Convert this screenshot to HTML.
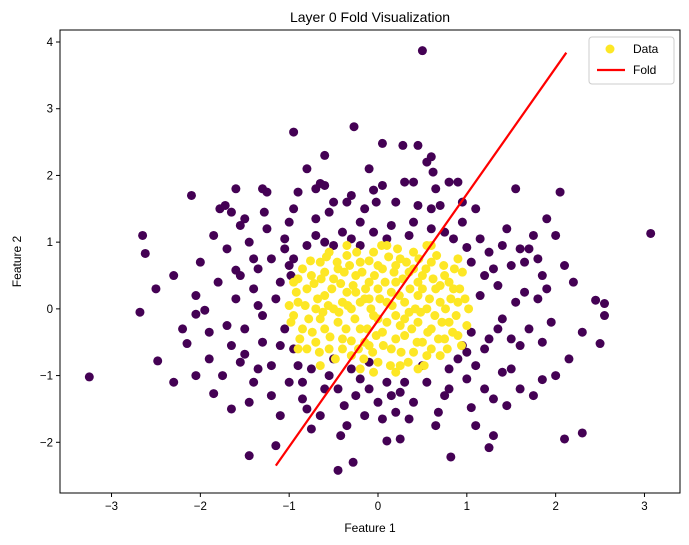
<!DOCTYPE html>
<html><head><meta charset="utf-8"><style>
html,body{margin:0;padding:0;background:#fff;}
svg{display:block;font-family:"Liberation Sans","DejaVu Sans",sans-serif;}
</style></head><body>
<svg id="chart" width="689" height="545" viewBox="0 0 689 545" xmlns="http://www.w3.org/2000/svg"></svg>
<script>
const purplePts = [[-3.25,-1.02],[-2.68,-0.05],[-2.65,1.1],[-2.62,0.83],[-2.48,-0.78],[-2.1,1.7],[-2.15,-0.52],[-2.05,0.2],[-2.05,-1.0],[-2.05,-0.08],[-1.95,-0.02],[-1.9,-0.35],[-1.85,-1.27],[-1.78,1.5],[-1.72,1.55],[-1.65,1.45],[-1.6,0.58],[-1.55,1.25],[-1.5,1.35],[-1.5,-0.68],[-1.45,-1.4],[-1.45,-2.2],[-1.4,0.3],[-1.35,-0.9],[-1.3,1.8],[-1.28,1.45],[-1.25,1.75],[-1.2,-1.3],[-1.15,-2.05],[-1.1,0.4],[-1.05,1.05],[-1.0,0.65],[-0.98,0.5],[-0.95,2.65],[-0.95,-0.6],[-0.9,-0.85],[-0.85,-1.35],[-0.8,-1.5],[-0.8,2.1],[-0.75,-1.8],[-0.7,1.8],[-0.65,1.88],[-0.6,1.85],[-0.55,1.45],[-0.5,-0.75],[-0.45,-2.42],[-0.42,-1.9],[-0.38,-1.45],[-0.35,1.6],[-0.3,1.7],[-0.28,-2.3],[-0.27,2.73],[-0.2,1.3],[-0.1,-1.2],[-0.05,1.78],[-0.02,1.6],[0.05,-1.65],[0.05,2.48],[0.1,-1.98],[0.15,1.25],[0.2,-1.55],[0.25,-1.95],[0.28,2.45],[0.3,1.9],[0.35,-1.65],[0.4,1.9],[0.5,3.87],[0.55,2.2],[0.6,2.28],[0.62,2.05],[0.65,1.8],[0.68,-1.55],[0.75,-1.3],[0.8,1.9],[0.82,-2.22],[0.9,1.9],[0.95,1.3],[0.95,-0.55],[1.0,0.92],[1.05,-1.48],[1.1,-1.75],[1.15,0.2],[1.2,-1.2],[1.25,-2.08],[1.3,0.6],[1.35,-0.3],[1.4,-0.95],[1.45,-1.45],[1.5,0.65],[1.55,1.8],[1.6,-0.55],[1.65,0.25],[1.7,0.9],[1.75,-1.3],[1.8,0.15],[1.85,-1.06],[1.9,1.35],[1.95,-0.2],[2.05,1.75],[2.1,0.65],[2.1,-1.95],[2.15,-0.75],[2.3,-0.35],[2.3,-1.86],[2.45,0.13],[2.55,0.08],[2.55,-0.1],[2.5,-0.52],[3.07,1.13],[1.85,0.5],[1.8,0.75],[1.6,0.9],[1.4,0.95],[1.2,0.5],[1.25,-0.45],[1.05,-0.35],[-1.7,-0.25],[-1.55,-0.8],[-1.3,-0.1],[-1.2,0.75],[-0.7,1.1],[-0.5,0.95],[-0.2,0.95],[0.1,1.05],[0.4,1.3],[0.75,1.15],[0.3,-1.1],[-0.1,-0.8],[-0.2,-1.05],[0.5,-0.85],[0.8,-0.9],[-0.3,-0.9],[0.15,-1.3],[-0.6,-1.2],[-1.1,-0.55],[-1.8,0.4],[-1.6,0.15],[-1.65,-0.55],[-1.35,0.05],[1.0,-1.05],[1.5,-0.9],[0.6,1.5],[-0.95,1.5],[-1.4,0.75],
[-2.3,0.5],[-2.2,-0.3],[-2.0,0.7],[-1.9,-0.75],[-1.85,1.1],[-1.75,-1.0],[-1.7,0.9],[-1.65,-1.5],[-1.55,0.5],[-1.5,-0.3],[-1.45,1.0],[-1.4,-1.1],[-1.35,0.6],[-1.3,-0.5],[-1.25,1.2],[-1.2,-0.85],[-1.15,0.15],[-1.1,-1.6],[-1.05,0.9],[-1.05,-0.3],[-1.0,1.3],[-1.0,-1.1],[-0.95,0.75],[-0.9,1.75],[-0.85,-1.1],[-0.8,0.95],[-0.75,-0.9],[-0.7,1.35],[-0.65,-1.6],[-0.6,1.0],[-0.55,-1.0],[-0.5,1.6],[-0.45,-1.2],[-0.4,1.15],[-0.35,-1.75],[-0.3,1.05],[-0.25,-1.3],[-0.15,1.5],[-0.15,-1.6],[-0.05,1.15],[0.0,-1.4],[0.05,1.85],[0.1,-1.1],[0.2,1.6],[0.25,-1.25],[0.35,1.1],[0.4,-1.4],[0.45,1.55],[0.55,-1.1],[0.6,1.2],[0.65,-1.75],[0.7,1.55],[0.8,-1.2],[0.85,1.05],[0.9,-0.75],[0.95,1.6],[1.0,-0.65],[1.05,0.7],[1.1,-0.85],[1.15,1.05],[1.2,-0.6],[1.25,0.85],[1.3,-1.35],[1.35,0.35],[1.4,-0.15],[1.45,1.2],[1.5,-0.45],[1.55,0.1],[1.6,-1.2],[1.65,0.7],[1.7,-0.3],[1.75,1.1],[1.85,-0.5],[1.9,0.3],[2.0,-1.0],[2.2,0.4],[2.0,1.1],[-2.5,0.3],[-2.3,-1.1],[1.1,1.5],[1.3,-1.9],[-0.1,2.1],[0.45,2.45],[-0.6,2.3],[-1.6,1.8]];
const yellowPts = [[-0.95,-0.1],[-0.9,0.1],[-0.85,-0.3],[-0.8,0.3],[-0.75,0.5],[-0.7,0.0],[-0.7,-0.5],[-0.65,0.7],[-0.6,0.2],[-0.6,-0.3],[-0.55,-0.6],[-0.5,0.45],[-0.5,0.0],[-0.45,0.6],[-0.45,-0.2],[-0.4,-0.45],[-0.35,0.25],[-0.35,0.8],[-0.3,-0.7],[-0.3,0.0],[-0.25,0.5],[-0.2,-0.3],[-0.2,0.7],[-0.15,0.15],[-0.1,-0.55],[-0.1,0.4],[-0.05,0.85],[-0.05,-0.1],[0.0,0.3],[0.0,-0.8],[0.05,0.6],[0.05,-0.35],[0.1,0.1],[0.1,0.95],[0.15,-0.6],[0.2,0.4],[0.2,-0.1],[0.25,0.75],[0.25,-0.85],[0.3,0.1],[0.3,-0.4],[0.35,0.55],[0.4,-0.65],[0.4,0.85],[0.45,0.2],[0.45,-0.2],[0.5,0.5],[0.5,-0.5],[0.55,0.0],[0.6,0.7],[0.6,-0.3],[0.65,0.3],[0.7,-0.7],[0.7,0.1],[0.75,0.5],[0.8,-0.2],[0.85,0.3],[0.9,-0.4],[0.9,0.1],[0.95,0.55],[-0.9,0.45],[-0.8,-0.6],[-0.6,0.55],[-0.2,-0.9],[0.0,0.65],[0.15,0.25],[0.35,-0.05],[-0.4,0.1],[-0.15,-0.5],[0.6,0.95],[-0.55,0.85],[0.2,0.65],[0.75,-0.45],[-0.25,0.25],[0.0,-0.15],[0.45,0.4],[-0.1,0.15],[0.25,-0.25],[0.55,-0.7],[-0.65,-0.15],
[-1.0,0.05],[-0.98,-0.2],[-0.92,0.25],[-0.88,-0.45],[-0.85,0.6],[-0.82,0.05],[-0.78,-0.15],[-0.76,0.72],[-0.74,-0.35],[-0.72,0.38],[-0.68,0.15],[-0.66,-0.65],[-0.64,0.45],[-0.62,-0.05],[-0.58,0.78],[-0.56,0.05],[-0.54,-0.42],[-0.52,0.3],[-0.48,-0.75],[-0.46,0.7],[-0.44,-0.05],[-0.42,0.38],[-0.4,-0.6],[-0.38,0.55],[-0.36,-0.3],[-0.34,0.05],[-0.32,0.65],[-0.3,-0.48],[-0.28,0.35],[-0.26,-0.15],[-0.24,0.85],[-0.22,-0.6],[-0.2,0.1],[-0.18,0.55],[-0.16,-0.75],[-0.14,0.3],[-0.12,-0.3],[-0.1,0.72],[-0.08,0.0],[-0.06,-0.65],[-0.04,0.5],[-0.02,-0.4],[0.02,0.15],[0.04,0.95],[0.06,-0.55],[0.08,0.4],[0.1,-0.2],[0.12,0.78],[0.14,-0.85],[0.16,0.05],[0.18,0.55],[0.2,-0.45],[0.22,0.9],[0.24,0.2],[0.26,-0.65],[0.28,0.45],[0.3,-0.15],[0.32,0.7],[0.34,-0.8],[0.36,0.3],[0.38,-0.3],[0.4,0.6],[0.42,0.0],[0.44,-0.5],[0.46,0.75],[0.48,-0.05],[0.5,0.3],[0.52,-0.85],[0.54,0.6],[0.56,-0.35],[0.58,0.15],[0.6,-0.6],[0.62,0.45],[0.64,-0.1],[0.66,0.8],[0.68,-0.45],[0.7,0.35],[0.72,-0.2],[0.74,0.65],[0.76,0.0],[0.78,-0.6],[0.8,0.4],[0.82,0.15],[0.84,-0.35],[0.86,0.6],[0.88,-0.1],[0.92,0.3],[0.94,-0.55],[0.98,0.15],[1.0,-0.25],[1.02,0.0],[0.55,0.95],[-0.35,0.95],[-0.65,-0.85],[0.2,-0.95],[-0.05,-0.95],[0.45,-0.9],[0.9,0.75],[-0.9,-0.6],[-0.95,0.4]];
const foldLine = [[-1.15,-2.35],[2.12,3.84]];
const xTicks = [-3,-2,-1,0,1,2,3];
const yTicks = [-2,-1,0,1,2,3,4];

const L=60,R=680,T=30,B=493;
const xMin=-3.58,xMax=3.40,yMin=-2.76,yMax=4.18;
const sx=v=>L+(v-xMin)/(xMax-xMin)*(R-L);
const sy=v=>B-(v-yMin)/(yMax-yMin)*(B-T);
const svg=document.getElementById('chart');
const NS='http://www.w3.org/2000/svg';
function mk(tag,attrs,parent){const e=document.createElementNS(NS,tag);for(const k in attrs)e.setAttribute(k,attrs[k]);(parent||svg).appendChild(e);return e;}

const title=mk('text',{x:(L+R)/2,y:22,'text-anchor':'middle','font-size':14,fill:'#000'});


title.textContent='Layer 0 Fold Visualization';

const pts=mk('g',{});


purplePts.forEach(p=>{const c=mk('circle',{cx:sx(p[0]),cy:sy(p[1]),r:4.5,fill:'#440154'},pts);

});
yellowPts.forEach(p=>{const c=mk('circle',{cx:sx(p[0]),cy:sy(p[1]),r:4.5,fill:'#fde725'},pts);

});

const fl=mk('line',{x1:sx(foldLine[0][0]),y1:sy(foldLine[0][1]),x2:sx(foldLine[1][0]),y2:sy(foldLine[1][1]),stroke:'#ff0000','stroke-width':2.2});



const frame=mk('rect',{x:L,y:T,width:R-L,height:B-T,fill:'none',stroke:'#000','stroke-width':1});



xTicks.forEach(t=>{const x=sx(t);mk('line',{x1:x,y1:B,x2:x,y2:B+4,stroke:'#000'});
const tx=mk('text',{x:x,y:B+17,'text-anchor':'middle','font-size':11.5});


tx.textContent=t<0?'\u2212'+Math.abs(t):t;});
yTicks.forEach(t=>{const y=sy(t);mk('line',{x1:L-4,y1:y,x2:L,y2:y,stroke:'#000'});
const tx=mk('text',{x:L-7,y:y+4,'text-anchor':'end','font-size':11.5});


tx.textContent=t<0?'\u2212'+Math.abs(t):t;});

const xl=mk('text',{x:(L+R)/2,y:532,'text-anchor':'middle','font-size':12});


xl.textContent='Feature 1';
const yl=mk('text',{x:21,y:(T+B)/2,'text-anchor':'middle','font-size':12,transform:`rotate(-90 21 ${(T+B)/2})`});


yl.textContent='Feature 2';

const lg=mk('g',{});


mk('rect',{x:589,y:37,width:85,height:47,rx:3,fill:'#fff','fill-opacity':0.8,stroke:'#ccc'},lg);
const d1=mk('circle',{cx:610,cy:49,r:4.5,fill:'#fde725'},lg);


const t1=mk('text',{x:633,y:53,'font-size':12},lg);t1.textContent='Data';


const d2=mk('line',{x1:597,y1:70,x2:625,y2:70,stroke:'#ff0000','stroke-width':2.2},lg);


const t2=mk('text',{x:633,y:74,'font-size':12},lg);t2.textContent='Fold';


</script>
</body></html>
